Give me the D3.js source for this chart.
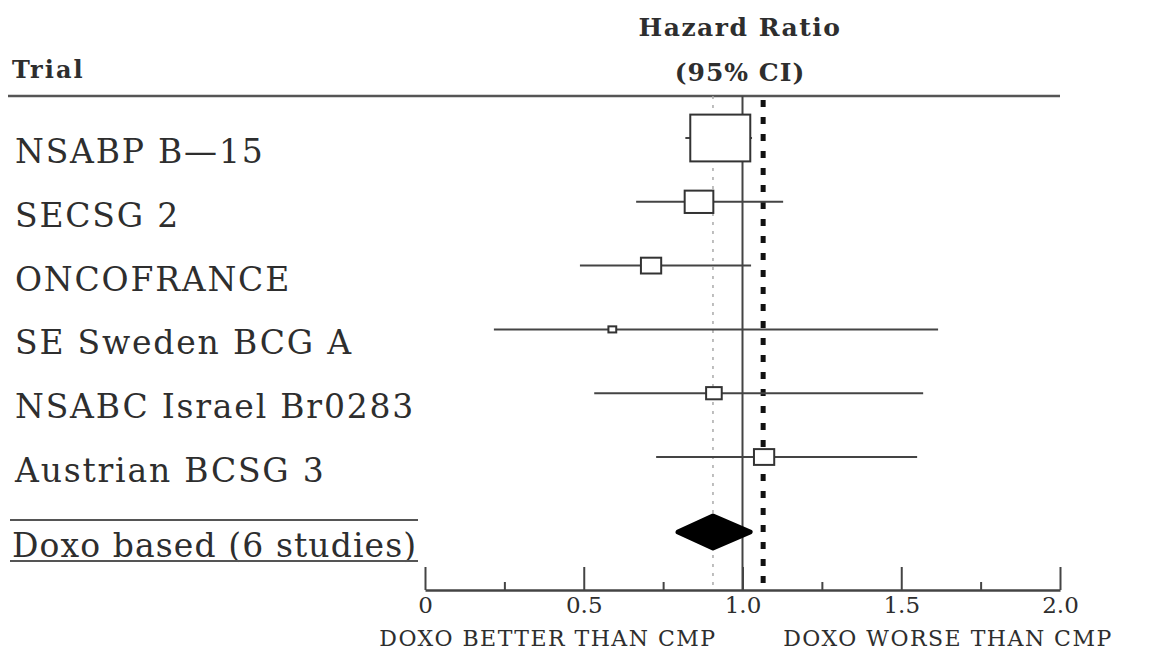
<!DOCTYPE html>
<html>
<head>
<meta charset="utf-8">
<script src="https://cdn.jsdelivr.net/npm/d3@7"></script>
<style>
  body { margin: 0; background: #fff; }
  text { font-family: "DejaVu Serif", serif; fill: #2e2e2e; }
</style>
</head>
<body>
<script>
// forest plot data
var trials = ["NSABP B\u201415", "SECSG  2", "ONCOFRANCE", "SE Sweden BCG A", "NSABC Israel Br0283", "Austrian BCSG 3"];
var hr     = [0.93, 0.863, 0.712, 0.59, 0.91, 1.068];
var lower  = [0.82, 0.665, 0.488, 0.217, 0.533, 0.728];
var upper  = [1.03, 1.128, 1.027, 1.616, 1.569, 1.55];
var weight = [64.9, 14.8, 7.4, 1.1, 4.4, 7.4];

var pooledLabel = "Doxo based (6 studies)";
var pooled = [0.797, 0.907, 1.024];   // lower, estimate, upper
var refLine = 1.065;

var tickVals = [0, 0.5, 1, 1.5, 2];
var tickLabels = ["0", "0.5", "1.0", "1.5", "2.0"];
var minorTicks = [0.25, 0.75, 1.25, 1.75];

var svgWidth = 1168;
var svgHeight = 658;

var svg = d3.select("body")
    .append("svg")
    .attr("width", svgWidth)
    .attr("height", svgHeight);

var x = d3.scaleLinear().domain([0, 2]).range([425, 1060]);
var y = d3.scaleLinear().domain([0, trials.length - 1]).range([138, 457]);
var pooledY = 532;
var axisY = 590;
var topRule = 96;

// box width from study weight
var boxW = d3.scaleSqrt().domain([0, d3.max(weight)]).range([0, 60]);

// headers
svg.append("text")
    .attr("x", 12).attr("y", 78)
    .style("font-size", "24px").style("font-weight", "bold")
    .style("letter-spacing", "2px")
    .text("Trial");

svg.append("text")
    .attr("x", 740).attr("y", 36)
    .attr("text-anchor", "middle")
    .style("font-size", "25px").style("font-weight", "bold")
    .style("letter-spacing", "1.5px")
    .text("Hazard Ratio");

svg.append("text")
    .attr("x", 740).attr("y", 81)
    .attr("text-anchor", "middle")
    .style("font-size", "25px").style("font-weight", "bold")
    .style("letter-spacing", "1px")
    .text("(95% CI)");

svg.append("line")
    .attr("x1", 8).attr("x2", 1060)
    .attr("y1", topRule).attr("y2", topRule)
    .attr("stroke", "#555").attr("stroke-width", 2.5);

// reference lines
svg.append("line")
    .attr("x1", x(pooled[1])).attr("x2", x(pooled[1]))
    .attr("y1", topRule).attr("y2", axisY)
    .attr("stroke", "#aaa").attr("stroke-width", 1.5)
    .attr("stroke-dasharray", "3,6");

svg.append("line")
    .attr("x1", x(1)).attr("x2", x(1))
    .attr("y1", topRule).attr("y2", axisY)
    .attr("stroke", "#444").attr("stroke-width", 2);

svg.append("line")
    .attr("x1", x(refLine)).attr("x2", x(refLine))
    .attr("y1", topRule + 4).attr("y2", axisY)
    .attr("stroke", "#111").attr("stroke-width", 5)
    .attr("stroke-dasharray", "7,10");

// trial rows
var rows = svg.selectAll("g.row")
    .data(trials)
    .enter()
    .append("g")
    .attr("class", "row");

rows.append("text")
    .attr("x", 15)
    .attr("y", (d, i) => y(i) + 25)
    .style("font-size", "33px")
    .style("letter-spacing", "1.8px")
    .text(d => d);

rows.append("line")
    .attr("x1", (d, i) => x(lower[i]))
    .attr("x2", (d, i) => x(upper[i]))
    .attr("y1", (d, i) => y(i))
    .attr("y2", (d, i) => y(i))
    .attr("stroke", "#444").attr("stroke-width", 2);

rows.append("rect")
    .attr("x", (d, i) => x(hr[i]) - boxW(weight[i]) / 2)
    .attr("y", (d, i) => y(i) - boxW(weight[i]) * 0.39)
    .attr("width", (d, i) => boxW(weight[i]))
    .attr("height", (d, i) => boxW(weight[i]) * 0.78)
    .attr("fill", "#fff")
    .attr("stroke", "#333").attr("stroke-width", 2);

// pooled row
svg.append("line")
    .attr("x1", 10).attr("x2", 418)
    .attr("y1", 520).attr("y2", 520)
    .attr("stroke", "#555").attr("stroke-width", 2);

svg.append("text")
    .attr("x", 12).attr("y", pooledY + 25)
    .style("font-size", "33px")
    .style("letter-spacing", "1.1px")
    .text(pooledLabel);

svg.append("line")
    .attr("x1", 10).attr("x2", 418)
    .attr("y1", 561).attr("y2", 561)
    .attr("stroke", "#555").attr("stroke-width", 2);

var dh = 16;
svg.append("path")
    .attr("d", "M" + x(pooled[0]) + "," + pooledY +
               "L" + x(pooled[1]) + "," + (pooledY - dh) +
               "L" + x(pooled[2]) + "," + pooledY +
               "L" + x(pooled[1]) + "," + (pooledY + dh) + "Z")
    .attr("fill", "#000")
    .attr("stroke", "#000").attr("stroke-width", 5)
    .attr("stroke-linejoin", "round");

// x axis
var minorAxis = d3.axisBottom(x)
    .tickValues(minorTicks)
    .tickSizeInner(-8).tickSizeOuter(0)
    .tickFormat("");

svg.append("g")
    .attr("transform", `translate(0, ${axisY})`)
    .call(minorAxis)
    .call(g => g.select(".domain").remove())
    .selectAll("line").attr("stroke", "#444").attr("stroke-width", 2);

var bottomAxis = d3.axisBottom(x)
    .tickValues(tickVals)
    .tickSizeInner(-23).tickSizeOuter(0)
    .tickPadding(7)
    .tickFormat((d, i) => tickLabels[i]);

var xAxis = svg.append("g")
    .attr("transform", `translate(0, ${axisY})`)
    .call(bottomAxis);

xAxis.select(".domain").attr("stroke", "#444").attr("stroke-width", 2.5);
xAxis.selectAll(".tick line").attr("stroke", "#444").attr("stroke-width", 2);
xAxis.selectAll(".tick text")
    .style("font-family", "DejaVu Serif, serif")
    .style("font-size", "23px")
    .attr("fill", "#2e2e2e");

svg.append("text")
    .attr("x", 548).attr("y", 646)
    .attr("text-anchor", "middle")
    .style("font-size", "22px")
    .style("letter-spacing", "1.5px")
    .text("DOXO BETTER THAN CMP");

svg.append("text")
    .attr("x", 948).attr("y", 646)
    .attr("text-anchor", "middle")
    .style("font-size", "22px")
    .style("letter-spacing", "1.5px")
    .text("DOXO WORSE THAN CMP");
</script>
</body>
</html>
